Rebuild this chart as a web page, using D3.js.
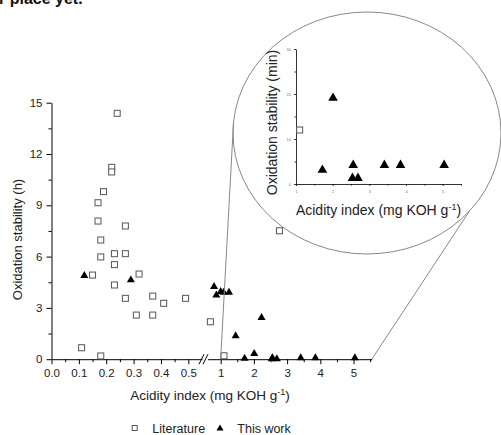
<!DOCTYPE html>
<html>
<head>
<meta charset="utf-8">
<script src="https://cdn.jsdelivr.net/npm/d3@7"></script>
<style>
  body { margin: 0; background: #fff; }
  svg { display: block; font-family: "Liberation Sans", Arial, sans-serif; }
</style>
</head>
<body>
<svg id="chart" width="501" height="435"></svg>
<script>
// Literature points (acidity index, oxidation stability in h)
var litAcid = [0.24, 0.22, 0.22, 0.19, 0.17, 0.17, 0.27, 0.18, 0.18, 0.23, 0.27, 0.23, 0.15,
               0.23, 0.32, 0.27, 0.37, 0.41, 0.49, 0.31, 0.37, 0.11, 0.18, 0.69, 1.1, 2.77];
var litStab = [14.38, 11.22, 10.95, 9.8, 9.15, 8.08, 7.79, 6.97, 5.98, 6.17, 6.17, 5.53, 4.92,
               4.34, 4.98, 3.56, 3.69, 3.27, 3.56, 2.58, 2.58, 0.67, 0.19, 2.19, 0.2, 7.51];

// This work, higher stability samples (h)
var workAcid = [0.12, 0.29, 0.80, 0.87, 1.0, 1.09, 1.25, 1.45, 2.23];
var workStab = [4.88, 4.63, 4.24, 3.75, 3.95, 3.9, 3.9, 1.36, 2.43];

// This work, low stability samples shown zoomed in the inset (min)
var insetWorkAcid = [1.72, 2.01, 2.54, 2.56, 2.69, 3.41, 3.85, 5.04];
var insetWorkMin = [3.1, 19.1, 1.3, 4.2, 1.3, 4.2, 4.2, 4.2];
var insetLitAcid = [1.1];
var insetLitMin = [12];

var xLeftTicks = [0, 0.1, 0.2, 0.3, 0.4, 0.5];
var xLeftMinor = [0.05, 0.15, 0.25, 0.35, 0.45];
var xRightTicks = [1, 2, 3, 4, 5];
var xRightMinor = [1.5, 2.5, 3.5, 4.5, 5.5];
var yTicks = [0, 3, 6, 9, 12, 15];
var yMinor = [1.5, 4.5, 7.5, 10.5, 13.5];
var insetXTicks = [1, 2, 3, 4, 5];
var insetXMinor = [1.5, 2.5, 3.5, 4.5, 5.5];
var insetYTicks = [0, 10, 20, 30];
var insetYMinor = [5, 15, 25];

var svg = d3.select('#chart');
var textColor = '#222';

// cut-off line of document text above the figure
svg.append('text')
    .attr('x', -1).attr('y', 4)
    .attr('font-size', 16).attr('font-weight', 'bold')
    .attr('fill', '#111')
    .text('r place yet.');

// ---- main plot scales (broken x axis)
var xLeft = d3.scaleLinear().domain([0, 0.55]).range([51.5, 202]);
var xRight = d3.scaleLinear().domain([0.6, 5.55]).range([207.4, 371.8]);
function xPos(v) { return v <= 0.55 ? xLeft(v) : xRight(v); }
var y = d3.scaleLinear().domain([0, 15]).range([359.2, 102.7]);
var y0 = y(0);

function styleAxis(g, size) {
    g.selectAll('path.domain').attr('stroke', '#000');
    g.selectAll('.tick line').attr('stroke', '#000');
    g.selectAll('.tick text').attr('fill', textColor).attr('font-size', size)
        .attr('font-family', '"Liberation Sans", Arial, sans-serif');
}

var gx1 = svg.append('g').attr('transform', 'translate(0,' + y0 + ')')
    .call(d3.axisBottom(xLeft).tickValues(xLeftTicks).tickFormat(d3.format('.1f'))
        .tickSize(5).tickSizeOuter(0).tickPadding(5));
styleAxis(gx1, 11.5);
var gx1m = svg.append('g').attr('transform', 'translate(0,' + y0 + ')')
    .call(d3.axisBottom(xLeft).tickValues(xLeftMinor).tickFormat('').tickSize(3));
gx1m.select('.domain').remove();
styleAxis(gx1m, 11.5);

var gx2 = svg.append('g').attr('transform', 'translate(0,' + y0 + ')')
    .call(d3.axisBottom(xRight).tickValues(xRightTicks).tickFormat(d3.format('d'))
        .tickSize(5).tickSizeOuter(0).tickPadding(5));
styleAxis(gx2, 11.5);
var gx2m = svg.append('g').attr('transform', 'translate(0,' + y0 + ')')
    .call(d3.axisBottom(xRight).tickValues(xRightMinor).tickFormat('').tickSize(3));
gx2m.select('.domain').remove();
styleAxis(gx2m, 11.5);

// axis break marks
[0, 4].forEach(function(off) {
    svg.append('line')
        .attr('x1', xLeft(0.55) - 3 + off).attr('y1', y0 + 5)
        .attr('x2', xLeft(0.55) + 2 + off).attr('y2', y0 - 5)
        .attr('stroke', '#000').attr('stroke-width', 1);
});

var gy = svg.append('g').attr('transform', 'translate(' + xLeft(0) + ',0)')
    .call(d3.axisLeft(y).tickValues(yTicks).tickSize(5).tickSizeOuter(0).tickPadding(4));
styleAxis(gy, 11.5);
var gym = svg.append('g').attr('transform', 'translate(' + xLeft(0) + ',0)')
    .call(d3.axisLeft(y).tickValues(yMinor).tickFormat('').tickSize(3));
gym.select('.domain').remove();
styleAxis(gym, 11.5);

// ---- main points
var sq = 6;
svg.append('g').selectAll('rect')
    .data(d3.range(litAcid.length))
    .enter()
    .append('rect')
    .attr('x', function(i) { return xPos(litAcid[i]) - sq / 2; })
    .attr('y', function(i) { return y(litStab[i]) - sq / 2; })
    .attr('width', sq).attr('height', sq)
    .attr('fill', '#fff').attr('stroke', '#555').attr('stroke-width', 1);

var tri = d3.symbol().type(d3.symbolTriangle).size(28);
var mainWork = workAcid.map(function(a, i) { return [a, workStab[i]]; })
    .concat(insetWorkAcid.map(function(a, i) { return [a, insetWorkMin[i] / 60]; }));
svg.append('g').selectAll('path')
    .data(mainWork)
    .enter()
    .append('path')
    .attr('d', tri)
    .attr('transform', function(d) { return 'translate(' + xPos(d[0]) + ',' + y(d[1]) + ')'; })
    .attr('fill', '#000');

// ---- magnifier ellipse and leader lines
var ell = { cx: 367, cy: 133, rx: 134, ry: 121 };
function ellPt(deg) {
    var a = deg * Math.PI / 180;
    return [ell.cx + ell.rx * Math.cos(a), ell.cy + ell.ry * Math.sin(a)];
}
svg.append('ellipse')
    .attr('cx', ell.cx).attr('cy', ell.cy).attr('rx', ell.rx).attr('ry', ell.ry)
    .attr('fill', '#fff').attr('stroke', '#888').attr('stroke-width', 1);

var pL = ellPt(185), pR = ellPt(40);
svg.append('line')
    .attr('x1', xRight(1)).attr('y1', y0).attr('x2', pL[0]).attr('y2', pL[1])
    .attr('stroke', '#888').attr('stroke-width', 1);
svg.append('line')
    .attr('x1', xRight(5.55)).attr('y1', y0).attr('x2', pR[0]).attr('y2', pR[1])
    .attr('stroke', '#888').attr('stroke-width', 1);

// ---- inset plot
var xi = d3.scaleLinear().domain([1, 5.5]).range([296, 461]);
var yi = d3.scaleLinear().domain([0, 30]).range([184, 49]);

function styleInset(g) {
    g.selectAll('path.domain').attr('stroke', '#000').attr('stroke-width', 0.8);
    g.selectAll('.tick line').attr('stroke', '#000').attr('stroke-width', 0.8);
    g.selectAll('.tick text').attr('fill', '#777').attr('font-size', 4)
        .attr('font-family', '"Liberation Sans", Arial, sans-serif');
}
var gix = svg.append('g').attr('transform', 'translate(0,' + yi(0) + ')')
    .call(d3.axisBottom(xi).tickValues(insetXTicks).tickFormat(d3.format('d'))
        .tickSize(2).tickSizeOuter(0).tickPadding(4));
styleInset(gix);
var gixm = svg.append('g').attr('transform', 'translate(0,' + yi(0) + ')')
    .call(d3.axisBottom(xi).tickValues(insetXMinor).tickFormat('').tickSize(1.5));
gixm.select('.domain').remove();
styleInset(gixm);
var giy = svg.append('g').attr('transform', 'translate(' + xi(1) + ',0)')
    .call(d3.axisLeft(yi).tickValues(insetYTicks).tickFormat(d3.format('d'))
        .tickSize(2).tickSizeOuter(0).tickPadding(3));
styleInset(giy);
var giym = svg.append('g').attr('transform', 'translate(' + xi(1) + ',0)')
    .call(d3.axisLeft(yi).tickValues(insetYMinor).tickFormat('').tickSize(1.5));
giym.select('.domain').remove();
styleInset(giym);

var sqi = 6;
svg.append('g').selectAll('rect')
    .data(d3.range(insetLitAcid.length))
    .enter()
    .append('rect')
    .attr('x', function(i) { return xi(insetLitAcid[i]) - sqi / 2; })
    .attr('y', function(i) { return yi(insetLitMin[i]) - sqi / 2; })
    .attr('width', sqi).attr('height', sqi)
    .attr('fill', '#fff').attr('stroke', '#555').attr('stroke-width', 1);

var triI = d3.symbol().type(d3.symbolTriangle).size(40);
svg.append('g').selectAll('path')
    .data(d3.range(insetWorkAcid.length))
    .enter()
    .append('path')
    .attr('d', triI)
    .attr('transform', function(i) { return 'translate(' + xi(insetWorkAcid[i]) + ',' + yi(insetWorkMin[i]) + ')'; })
    .attr('fill', '#000');

// inset labels
svg.append('text')
    .attr('transform', 'translate(277,122.5) rotate(-90)')
    .attr('text-anchor', 'middle').attr('font-size', 14).attr('fill', textColor)
    .text('Oxidation stability (min)');
var ixl = svg.append('text')
    .attr('x', 378.5).attr('y', 215)
    .attr('text-anchor', 'middle').attr('font-size', 14).attr('fill', textColor);
ixl.append('tspan').text('Acidity index (mg KOH g');
ixl.append('tspan').attr('dy', -5).attr('font-size', 9).text('-1');
ixl.append('tspan').attr('dy', 5).text(')');

// ---- main labels
svg.append('text')
    .attr('transform', 'translate(22,239.5) rotate(-90)')
    .attr('text-anchor', 'middle').attr('font-size', 13).attr('fill', textColor)
    .text('Oxidation stability (h)');
var mxl = svg.append('text')
    .attr('x', 210).attr('y', 400)
    .attr('text-anchor', 'middle').attr('font-size', 13.5).attr('fill', textColor);
mxl.append('tspan').text('Acidity index (mg KOH g');
mxl.append('tspan').attr('dy', -5).attr('font-size', 9).text('-1');
mxl.append('tspan').attr('dy', 5).text(')');

// ---- legend
var legY = 428;
svg.append('rect')
    .attr('x', 134.7 - 2.5).attr('y', legY - 2.5).attr('width', 5).attr('height', 5)
    .attr('fill', '#fff').attr('stroke', '#555').attr('stroke-width', 1);
svg.append('text').attr('x', 152.3).attr('y', legY + 4.5)
    .attr('font-size', 12.5).attr('fill', textColor).text('Literature');
svg.append('path')
    .attr('d', d3.symbol().type(d3.symbolTriangle).size(22))
    .attr('transform', 'translate(220,' + (legY + 0.5) + ')')
    .attr('fill', '#000');
svg.append('text').attr('x', 237.3).attr('y', legY + 4.5)
    .attr('font-size', 12.5).attr('fill', textColor).text('This work');
</script>
</body>
</html>
